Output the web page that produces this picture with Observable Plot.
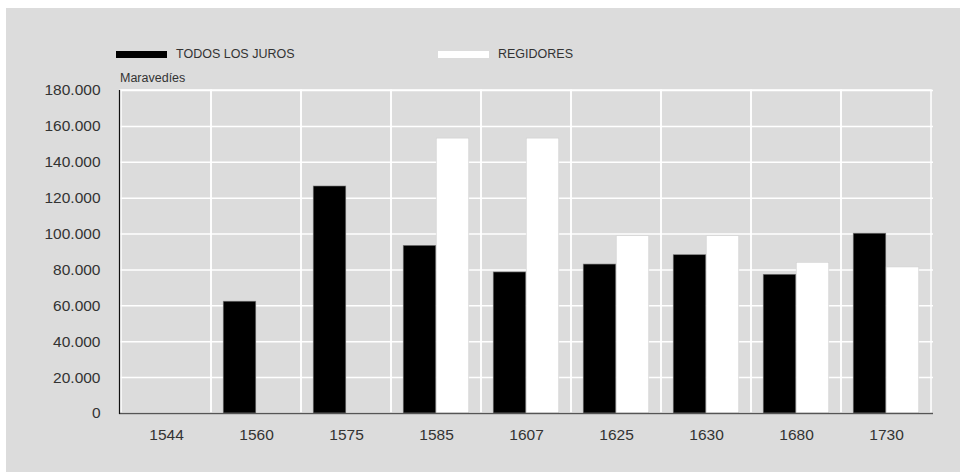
<!DOCTYPE html>
<html>
<head>
<meta charset="utf-8">
<script src="https://cdn.jsdelivr.net/npm/d3@7"></script>
<script src="https://cdn.jsdelivr.net/npm/@observablehq/plot@0.6"></script>
<style>
  html, body { margin: 0; padding: 0; background: #ffffff; }
  body { width: 960px; height: 472px; position: relative; overflow: hidden;
         font-family: "Liberation Sans", Arial, Helvetica, sans-serif; color: #333; }
  #panel { position: absolute; left: 6px; top: 8px; width: 954px; height: 464px; background: #dcdcdc; }
  .leg { position: absolute; display: flex; align-items: center; font-size: 12.5px; color: #333; line-height: 14px; }
  .sw { width: 51px; height: 7px; margin-right: 9px; }
  #unit { position: absolute; left: 114px; top: 63px; font-size: 12.5px; color: #333; line-height: 14px; }
</style>
</head>
<body>
<div id="panel">
  <div class="leg" style="left:110px; top:39px;"><span class="sw" style="background:#000"></span><span>TODOS LOS JUROS</span></div>
  <div class="leg" style="left:432px; top:39px;"><span class="sw" style="background:#fff"></span><span>REGIDORES</span></div>
  <div id="unit">Maravedíes</div>
  <div id="chart"></div>
</div>
<script>
const years = ["1544", "1560", "1575", "1585", "1607", "1625", "1630", "1680", "1730"];
const todosLosJuros = [null, 62300, 126500, 93400, 78600, 83000, 88200, 77300, 100200];
const regidores = [null, null, null, 153200, 153200, 98800, 98800, 84000, 81400];
const yTicks = [0, 20000, 40000, 60000, 80000, 100000, 120000, 140000, 160000, 180000];
const yMax = 180000;

const dataTodos = years.map((y, i) => ({year: y, value: todosLosJuros[i]})).filter(d => d.value != null);
const dataReg = years.map((y, i) => ({year: y, value: regidores[i]})).filter(d => d.value != null);

const fmt = d => d3.format(",")(d).replace(/,/g, ".");

const W = 954, mL = 113, mR = 27;
const band = (W - mL - mR) / years.length;
const barW = 33;
const outer = (band - 2 * barW) / 2;

const chart = Plot.plot({
  width: W,
  height: 464,
  marginLeft: mL,
  marginRight: mR,
  marginTop: 82,
  marginBottom: 59,
  style: {background: "transparent", fontFamily: "'Liberation Sans', Arial, Helvetica, sans-serif", fontSize: "15.5px", color: "#333"},
  x: {domain: years, padding: 0, label: null},
  y: {domain: [0, yMax], label: null},
  marks: [
    Plot.gridY(yTicks, {stroke: "white", strokeOpacity: 1, strokeWidth: 1.5}),
    Plot.barY(years, {x: d => d, y1: 0, y2: yMax, fill: "none", stroke: "white", strokeWidth: 1.5}),
    Plot.barY(dataTodos, {x: "year", y: "value", fill: "black", stroke: "#777", strokeWidth: 0.6, insetLeft: outer, insetRight: outer + barW}),
    Plot.barY(dataReg, {x: "year", y: "value", fill: "white", stroke: "#d0d0d0", strokeWidth: 0.6, insetLeft: outer + barW, insetRight: outer}),
    Plot.ruleY([0], {stroke: "#555", strokeWidth: 1.5}),
    Plot.frame({anchor: "left", stroke: "#111", strokeWidth: 1.2}),
    Plot.axisY(yTicks, {tickSize: 0, tickPadding: 19, tickFormat: fmt, label: null, fill: "#333"}),
    Plot.axisX({tickSize: 0, tickPadding: 15, label: null, fill: "#333"})
  ]
});
document.getElementById("chart").appendChild(chart);
</script>
</body>
</html>
